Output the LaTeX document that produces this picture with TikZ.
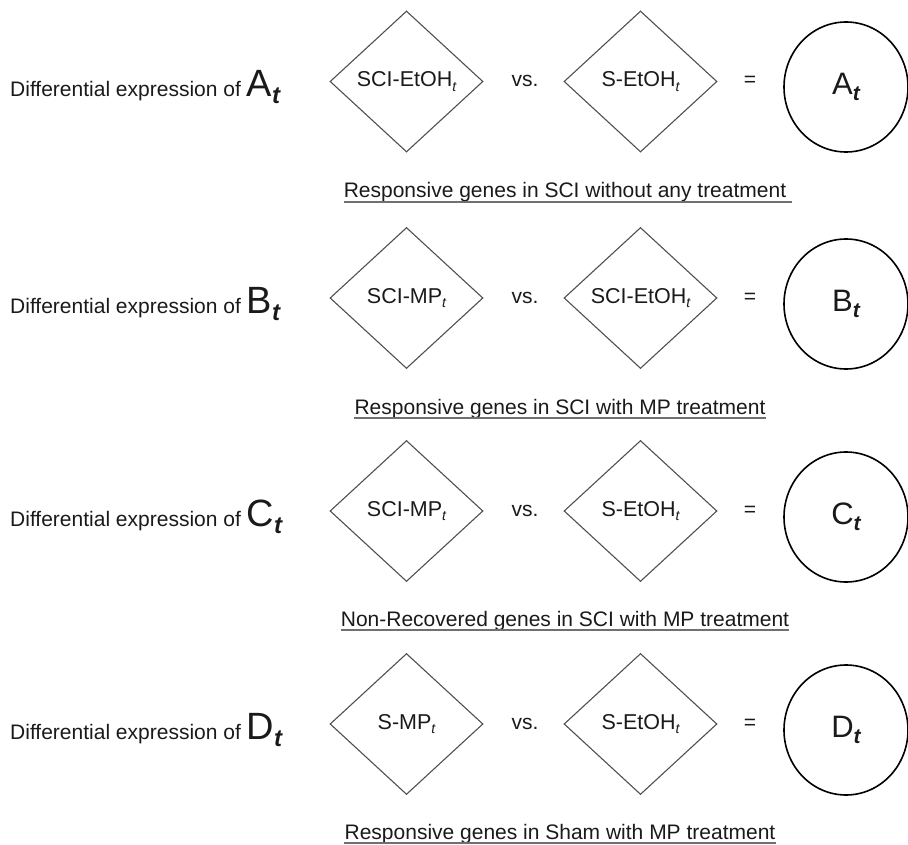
\documentclass[tikz,border=0pt]{standalone}
\usepackage{fontspec}
\setmainfont{Liberation Sans}
\usetikzlibrary{shapes.geometric}
\definecolor{diag}{HTML}{505050}
\definecolor{txt}{HTML}{1A1A1A}
\definecolor{uline}{HTML}{707070}
\newcommand{\mysubt}{\raisebox{-4.5pt}{\fontsize{14}{14}\selectfont\itshape t}}
\newcommand{\mylab}[4]{{\fontsize{#2}{#2}\selectfont #1\raisebox{-#4pt}{\fontsize{#3}{#3}\selectfont\bfseries\itshape t}}}
\begin{document}
\begin{tikzpicture}[x=1pt,y=-1pt,
  dia/.style={draw=diag, line width=1.1pt, shape=diamond, minimum width=153pt, minimum height=141pt, inner sep=0pt, font=\fontsize{21.5}{21.5}\selectfont, text=txt},
  res/.style={draw=black, line width=1.6pt, ellipse, minimum width=124pt, minimum height=130pt, inner sep=0pt, text=txt},
  ttl/.style={anchor=base west, inner sep=0pt, font=\fontsize{21}{21}\selectfont, text=txt},
  op/.style={anchor=base, inner sep=0pt, font=\fontsize{21}{21}\selectfont, text=txt},
  capt/.style={anchor=base, inner sep=0pt, font=\fontsize{21}{21}\selectfont, text=txt},
  ul/.style={draw=uline, line width=1.3pt}
]
\useasboundingbox (0,0) rectangle (908,845);

% Row A
\node[ttl] (t1) at (10,97) {Differential expression of \mylab{A}{38}{24}{7}};
\node[dia] (d1a) at (406.5,81.5) {SCI-EtOH\mysubt};
\node[op] (vs1) at (525,87) {vs.};
\node[dia] (d1b) at (640.5,81.5) {S-EtOH\mysubt};
\node[op] (eq1) at (750,87) {=};
\node[res] (c1) at (846,87) {\mylab{A}{31}{21}{6}};
\node[capt] (cap1) at (565,198) {Responsive genes in SCI without any treatment};
\draw[ul] ([yshift=-4pt]cap1.base west) -- ([yshift=-4pt,xshift=6pt]cap1.base east);

% Row B
\node[ttl] (t2) at (10,313) {Differential expression of \mylab{B}{38}{24}{7}};
\node[dia] (d2a) at (406.5,298) {SCI-MP\mysubt};
\node[op] (vs2) at (525,303.5) {vs.};
\node[dia] (d2b) at (640.5,298) {SCI-EtOH\mysubt};
\node[op] (eq2) at (750,303.5) {=};
\node[res] (c2) at (846,304) {\mylab{B}{31}{21}{6}};
\node[capt] (cap2) at (560,414) {Responsive genes in SCI with MP treatment};
\draw[ul] ([yshift=-4pt]cap2.base west) -- ([yshift=-4pt]cap2.base east);

% Row C
\node[ttl] (t3) at (10,526) {Differential expression of \mylab{C}{38}{24}{7}};
\node[dia] (d3a) at (406.5,511) {SCI-MP\mysubt};
\node[op] (vs3) at (525,516.5) {vs.};
\node[dia] (d3b) at (640.5,511) {S-EtOH\mysubt};
\node[op] (eq3) at (750,516.5) {=};
\node[res] (c3) at (846,517) {\mylab{C}{31}{21}{6}};
\node[capt] (cap3) at (565,626) {Non-Recovered genes in SCI with MP treatment};
\draw[ul] ([yshift=-4pt]cap3.base west) -- ([yshift=-4pt]cap3.base east);

% Row D
\node[ttl] (t4) at (10,739) {Differential expression of \mylab{D}{38}{24}{7}};
\node[dia] (d4a) at (406.5,724) {S-MP\mysubt};
\node[op] (vs4) at (525,729.5) {vs.};
\node[dia] (d4b) at (640.5,724) {S-EtOH\mysubt};
\node[op] (eq4) at (750,729.5) {=};
\node[res] (c4) at (846,730) {\mylab{D}{31}{21}{6}};
\node[capt] (cap4) at (560,839) {Responsive genes in Sham with MP treatment};
\draw[ul] ([yshift=-4pt]cap4.base west) -- ([yshift=-4pt]cap4.base east);
\end{tikzpicture}
\end{document}
